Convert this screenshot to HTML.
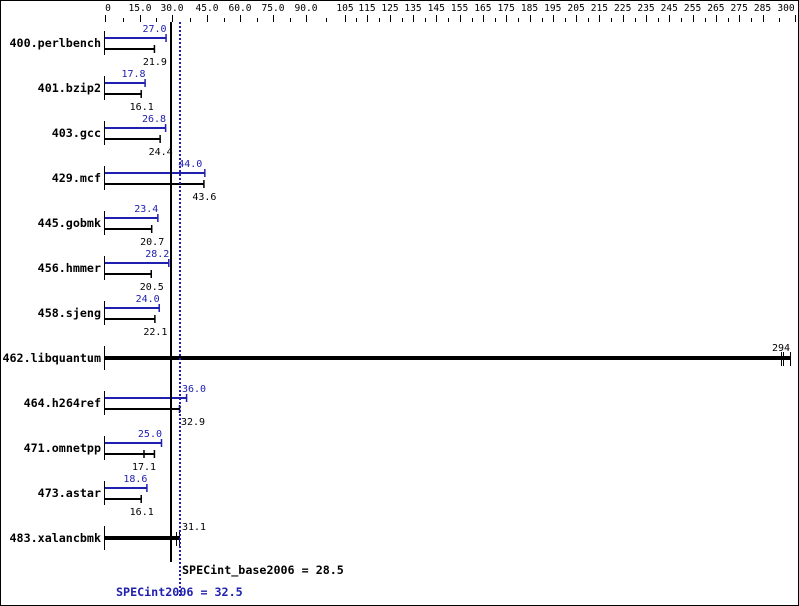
<!DOCTYPE html>
<html><head><meta charset="utf-8"><style>
html,body{margin:0;padding:0;background:#fff}
svg{display:block}
text{font-family:"DejaVu Sans Mono","Liberation Mono",monospace;font-size:10px}
.t{font-size:9.6px}
.b{font-weight:bold;font-size:11.7px}
.bl{fill:#2020b0}
</style></head><body>
<svg id="s" width="799" height="606" xmlns="http://www.w3.org/2000/svg">
<rect x="0.5" y="0.5" width="798" height="605" fill="#fff" stroke="#000"/>
<g id="ax"></g>
<g id="rows"></g>
<line x1="171" y1="22" x2="171" y2="562" stroke="#000" stroke-width="2"/>
<line x1="180" y1="22" x2="180" y2="598" stroke="#2020b0" stroke-width="2" stroke-dasharray="2,2"/>
<text x="182" y="574" class="b">SPECint_base2006 = 28.5</text>
<text x="116" y="596" class="b bl">SPECint2006 = 32.5</text>
</svg>
<script>
var S=2.28,O=105,ns="http://www.w3.org/2000/svg";
function X(v){return O+v*S}
function el(p,t,a,txt){var e=document.createElementNS(ns,t);for(var k in a)e.setAttribute(k,a[k]);if(txt!=null)e.textContent=txt;document.getElementById(p).appendChild(e);return e}
var L=[["0",108],["15.0",140],["30.0",172],["45.0",207],["60.0",240],["75.0",273],["90.0",306],["105",345],["115",367],["125",390]];
for(var i=0;i<16;i++)L.push([""+(135+10*i),413+23.3*i]);
L.push(["300",786]);
L.forEach(function(l){el("ax","text",{x:l[1],y:11,"text-anchor":"middle",class:"t"},l[0])});
var maj=[105,140,172,207,240,273,306,345,367,390];for(var i=0;i<16;i++)maj.push(Math.round(413+23.3*i));maj.push(795);
maj.forEach(function(x){el("ax","line",{x1:x+.5,x2:x+.5,y1:15,y2:22,stroke:"#000"})});
for(var i=0;i<maj.length-1;i++){var m=Math.round((maj[i]+maj[i+1])/2);el("ax","line",{x1:m+.5,x2:m+.5,y1:18,y2:22,stroke:"#000"})}
var d=[["400.perlbench",27.0,21.9],["401.bzip2",17.8,16.1],["403.gcc",26.8,24.4],["429.mcf",44.0,43.6],["445.gobmk",23.4,20.7],["456.hmmer",28.2,20.5],["458.sjeng",24.0,22.1],["462.libquantum",294,null],["464.h264ref",36.0,32.9],["471.omnetpp",25.0,17.1,21.9],["473.astar",18.6,16.1],["483.xalancbmk",31.1,null]];
d.forEach(function(r,i){var c=43+45*i;
el("rows","text",{x:101,y:c+4,"text-anchor":"end",class:"b"},r[0]);
el("rows","line",{x1:104.5,x2:104.5,y1:c-12,y2:c+12,stroke:"#000"});
if(r[2]==null){
if(r[1]>200){
el("rows","line",{x1:105,x2:790,y1:c,y2:c,stroke:"#000","stroke-width":4});
[781.5,783.5,790.5].forEach(function(x){el("rows","line",{x1:x,x2:x,y1:c-6,y2:c+8,stroke:"#000"})});
el("rows","text",{x:790,y:c-7,"text-anchor":"end"},"294");
}else{
el("rows","line",{x1:105,x2:180,y1:c,y2:c,stroke:"#000","stroke-width":4});
[176.5,179.5].forEach(function(x){el("rows","line",{x1:x,x2:x,y1:c-6,y2:c+8,stroke:"#000"})});
el("rows","text",{x:182,y:c-8},"31.1");
}
return}
var p=X(r[1]),b=X(r[3]||r[2]);
el("rows","line",{x1:105,x2:p,y1:c-5,y2:c-5,stroke:"#2020b0","stroke-width":2});
el("rows","line",{x1:p-.5,x2:p-.5,y1:c-9,y2:c-1,stroke:"#2020b0","stroke-width":1.5});
el("rows","line",{x1:105,x2:b,y1:c+6,y2:c+6,stroke:"#000","stroke-width":2});
el("rows","line",{x1:b-.5,x2:b-.5,y1:c+2,y2:c+10,stroke:"#000","stroke-width":1.5});
if(r[3]){var m=X(r[2]);el("rows","line",{x1:m,x2:m,y1:c+2,y2:c+10,stroke:"#000","stroke-width":1.5})}
var pl=el("rows","text",{x:r[1]>30?p-3:p,y:c-11,"text-anchor":"end",class:"bl"},r[1].toFixed(1));
if(r[1]>31&&r[1]<40){pl.setAttribute("x",182);pl.setAttribute("text-anchor","start")}
var bx=r[3]?X(r[2]):b;
var bl=el("rows","text",{x:bx,y:c+22,"text-anchor":"middle"},r[2].toFixed(1));
if(r[2]>30&&r[2]<40){bl.setAttribute("x",181);bl.setAttribute("text-anchor","start")}
});
</script>
</body></html>
